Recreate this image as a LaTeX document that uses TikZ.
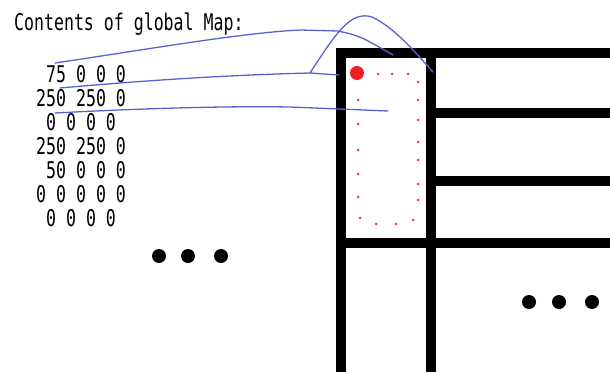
\documentclass[tikz,border=0pt]{standalone}
\usepackage{fontspec}
\newfontfamily\mapfont[FakeStretch=0.72]{DejaVu Sans Mono}
\usetikzlibrary{positioning}
\definecolor{penblue}{RGB}{88,98,214}
\definecolor{dotred}{RGB}{240,30,40}

\begin{document}
\begin{tikzpicture}[x=1pt, y=-1pt,
  maptext/.style={inner sep=0pt, anchor=base west, font=\mapfont\fontsize{23}{24}\selectfont},
  gridline/.style={line width=9.5pt, black, line join=miter},
  pen/.style={penblue, line width=1.3pt, line cap=round},
  ellipsis/.style={circle, fill=black, inner sep=0pt, minimum size=14pt}
]
\useasboundingbox (0,0) rectangle (610,372);

% header and the rows of the map
\node[maptext] (title) at (14,30) {Contents of global Map:};
\foreach \row [count=\i] in {~75 0 0 0, 250 250 0, ~0 0 0 0, 250 250 0, ~50 0 0 0, 0 0 0 0 0, ~0 0 0 0}{
  \node[maptext] (row\i) at (36,{82+24*(\i-1)}) {\row};
}
\foreach \x [count=\i] in {159,188,221}{
  \node[ellipsis] (ldot\i) at (\x,256) {};
}

% the grid of cells
\draw[gridline] (610,53) -| (341,372);
\draw[gridline] (431,53) -- (431,372);
\draw[gridline] (431,113) -- (610,113);
\draw[gridline] (431,181) -- (610,181);
\draw[gridline] (341,243) -- (610,243);
\foreach \x [count=\i] in {529,559,592}{
  \node[ellipsis] (rdot\i) at (\x,302) {};
}

% traversal of the first cell
\node[circle, fill=dotred, inner sep=0pt, minimum size=14pt] (start) at (357,73) {};
\foreach \p in {(378,74),(392,74),(408,74),
                (418,82),(418,100),(418,120),(418,142),(418,160),(418,184),(418,200),
                (413,220),(396,224),(376,224),(360,218),
                (358,197),(358,174),(358,150),(358,124),(358,100)}{
  \fill[dotred!85] \p circle (1.5);
}

% pen strokes from the rows into the cell
\coordinate (aS) at (55,63);
\coordinate (aM) at (338,31);
\coordinate (aE) at (393,55);
\coordinate (bS) at (60,88);
\coordinate (bK) at (310,73);
\coordinate (bE) at (339,75);
\coordinate (bT) at (433,72);
\coordinate (cS) at (55,113);
\coordinate (cE) at (388,111);
\draw[pen] (aS) .. controls (150,49) and (240,33) .. (300,30) -- (aM) .. controls (360,36) .. (aE);
\draw[pen] (bS) .. controls (150,80) and (230,75) .. (bK) -- (bE);
\draw[pen] (bK) .. controls (335,35) and (350,10) .. (372,17) .. controls (395,28) and (415,52) .. (bT);
\draw[pen] (cS) .. controls (150,108) and (230,106) .. (290,107) -- (cE);
\end{tikzpicture}
\end{document}
